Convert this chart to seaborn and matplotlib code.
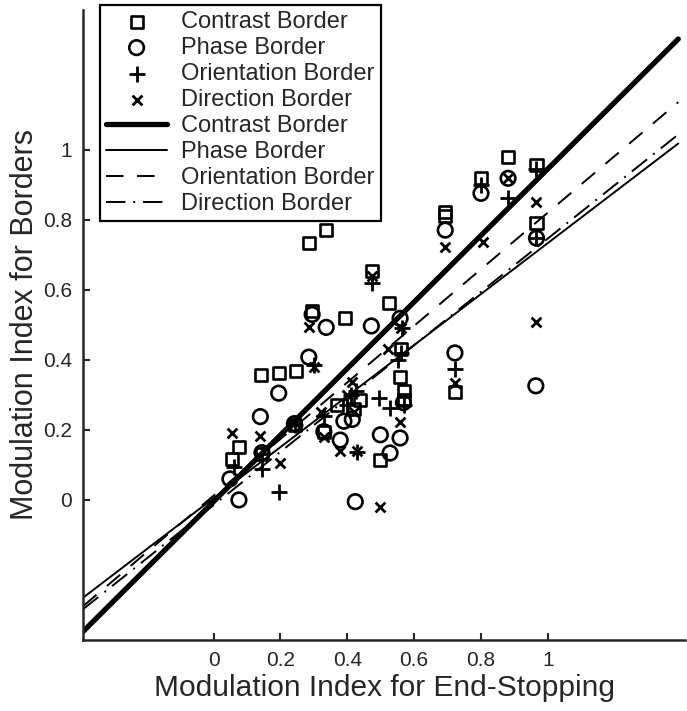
import matplotlib
matplotlib.use('Agg')
import matplotlib.pyplot as plt
import numpy as np
import pandas as pd
import seaborn as sns

# modulation index values (x = end-stopping, y = border)
contrast_x = [0.056, 0.077, 0.142, 0.145, 0.195, 0.248, 0.245, 0.285, 0.295, 0.337, 0.33, 0.369,
              0.394, 0.42, 0.439, 0.474, 0.499, 0.526, 0.558, 0.56, 0.57, 0.57, 0.693, 0.693,
              0.722, 0.80, 0.881, 0.966, 0.966]
contrast_y = [0.117, 0.152, 0.357, 0.13, 0.364, 0.369, 0.215, 0.733, 0.54, 0.77, 0.195, 0.271,
              0.519, 0.26, 0.286, 0.655, 0.114, 0.564, 0.352, 0.43, 0.31, 0.285, 0.824, 0.812,
              0.309, 0.92, 0.981, 0.958, 0.79]

phase_x = [0.049, 0.076, 0.14, 0.145, 0.195, 0.242, 0.285, 0.295, 0.337, 0.33, 0.379, 0.39, 0.415,
           0.424, 0.472, 0.499, 0.528, 0.558, 0.558, 0.568, 0.693, 0.722, 0.80, 0.881, 0.966, 0.964]
phase_y = [0.06, 0.0, 0.238, 0.135, 0.305, 0.218, 0.408, 0.53, 0.493, 0.195, 0.171, 0.225, 0.23,
           -0.005, 0.497, 0.186, 0.134, 0.519, 0.177, 0.278, 0.771, 0.42, 0.876, 0.919, 0.748, 0.326]

orient_x = [0.06, 0.145, 0.145, 0.195, 0.245, 0.30, 0.33, 0.40, 0.41, 0.425, 0.43, 0.474, 0.494,
            0.528, 0.553, 0.56, 0.563, 0.57, 0.722, 0.80, 0.881, 0.966, 0.966]
orient_y = [0.095, 0.088, 0.13, 0.023, 0.215, 0.385, 0.24, 0.27, 0.30, 0.31, 0.138, 0.62, 0.29,
            0.262, 0.40, 0.42, 0.49, 0.27, 0.373, 0.90, 0.862, 0.945, 0.748]

direct_x = [0.056, 0.14, 0.198, 0.245, 0.285, 0.30, 0.32, 0.33, 0.379, 0.40, 0.414, 0.42, 0.43,
            0.474, 0.497, 0.523, 0.558, 0.56, 0.693, 0.722, 0.807, 0.881, 0.966, 0.964]
direct_y = [0.19, 0.183, 0.105, 0.22, 0.495, 0.38, 0.25, 0.18, 0.141, 0.30, 0.338, 0.25, 0.14,
            0.64, -0.019, 0.43, 0.224, 0.49, 0.724, 0.335, 0.738, 0.92, 0.852, 0.509]

# linear fits (slope, intercept) per border type
fit_names = ['Contrast Border', 'Phase Border', 'Orientation Border', 'Direction Border']
fit_slopes = [0.951, 0.729, 0.809, 0.762]
fit_intercepts = [-0.005, 0.005, 0.012, -0.015]
fit_range = [-0.39, 1.39]

x_ticks = [0, 0.2, 0.4, 0.6, 0.8, 1]
y_ticks = [0, 0.2, 0.4, 0.6, 0.8, 1]

sns.set_style('ticks')
plt.rcParams['font.family'] = ['Liberation Sans', 'DejaVu Sans']
plt.rcParams['xtick.direction'] = 'in'
plt.rcParams['ytick.direction'] = 'in'

fig = plt.figure(figsize=(6.87, 7.11), dpi=100)
ax = fig.add_axes([0.121, 0.1, 0.876, 0.886])

# scatter markers, one call per border type
sns.scatterplot(x=contrast_x, y=contrast_y, marker='s', s=75, facecolors='none',
                edgecolor='black', linewidth=1.9, label='Contrast Border', ax=ax)
sns.scatterplot(x=phase_x, y=phase_y, marker='o', s=110, facecolors='none',
                edgecolor='black', linewidth=1.9, label='Phase Border', ax=ax)
sns.scatterplot(x=orient_x, y=orient_y, marker='+', s=120, color='black',
                linewidth=2.0, label='Orientation Border', ax=ax)
sns.scatterplot(x=direct_x, y=direct_y, marker='x', s=50, color='black',
                linewidth=2.0, label='Direction Border', ax=ax)

# regression lines
styles = [dict(lw=3.8, ls='-'), dict(lw=1.4, ls='-'),
          dict(lw=1.4, ls=(0, (9, 7))), dict(lw=1.4, ls=(0, (10, 4, 1, 4)))]
xs = np.array(fit_range)
for name, m, b, st in zip(fit_names, fit_slopes, fit_intercepts, styles):
    line = pd.DataFrame({'x': xs, 'y': m * xs + b})
    sns.lineplot(data=line, x='x', y='y', color='black', linewidth=st['lw'],
                 linestyle=st['ls'], label=name, ax=ax)

ax.set_xlim(-0.39, 1.41)
ax.set_ylim(-0.4, 1.4)
ax.set_xticks(x_ticks)
ax.set_yticks(y_ticks)
ax.set_xticklabels([f'{t:g}' for t in x_ticks])
ax.set_yticklabels([f'{t:g}' for t in y_ticks])
ax.tick_params(labelsize=15, width=1.5, length=5, pad=8)
for side in ['top', 'right']:
    ax.spines[side].set_visible(False)
for side in ['left', 'bottom']:
    ax.spines[side].set_linewidth(1.8)

ax.set_xlabel('Modulation Index for End-Stopping', fontsize=21.5, labelpad=3)
ax.set_ylabel('Modulation Index for Borders', fontsize=22, labelpad=2)

leg = ax.legend(loc='upper left', bbox_to_anchor=(0.028, 1.008), borderaxespad=0,
                fontsize=17, frameon=True, fancybox=False, edgecolor='black',
                framealpha=1, handlelength=2.6, handletextpad=0.6, labelspacing=0.17,
                borderpad=0.25)
leg.get_frame().set_linewidth(1.6)

fig.savefig('out.png', dpi=100)
